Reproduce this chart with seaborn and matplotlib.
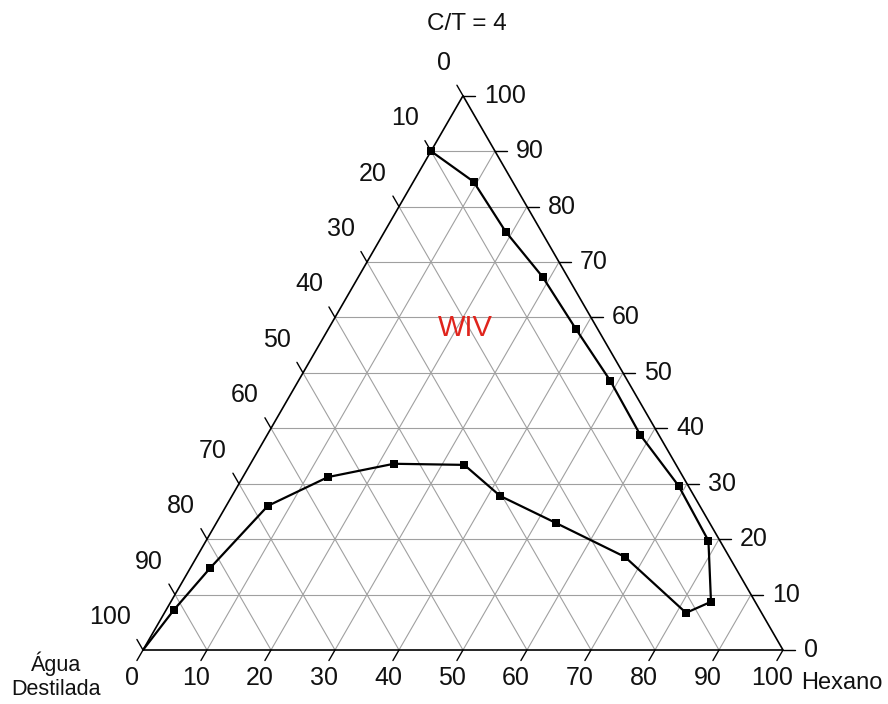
import numpy as np
import pandas as pd
import matplotlib
matplotlib.use("Agg")
import matplotlib.pyplot as plt
import seaborn as sns

# Binodal curve of the pseudo-ternary system (percentages)
hexano = [0, 1.2, 3.1, 6.5, 13.3, 22.4, 33.5, 41.9, 53.1, 66.9, 81.5,
          84.4, 78.5, 68.9, 58.3, 48.7, 38.7, 28.8, 18.9, 9.4, 0]
ct = [0, 7.2, 14.8, 26.0, 31.2, 33.6, 33.4, 27.8, 22.9, 16.8, 6.7,
      8.7, 19.7, 29.6, 38.8, 48.6, 57.9, 67.3, 75.5, 84.5, 90]
agua = [100 - h - c for h, c in zip(hexano, ct)]

ticks = list(range(0, 101, 10))
tick_labels = [str(t) for t in ticks]

H = np.sqrt(3) / 2


def to_xy(hex_pct, ct_pct):
    h = np.asarray(hex_pct, dtype=float) / 100
    c = np.asarray(ct_pct, dtype=float) / 100
    return h + c / 2, c * H


sns.set_theme(style="white")
plt.rcParams["font.family"] = ["Liberation Sans", "DejaVu Sans"]

fig = plt.figure(figsize=(8.88, 7.04), dpi=100)
ax = fig.add_axes([0, 0, 1, 1])
ax.set_xlim(-143 / 640, 745 / 640)
ax.set_ylim(-54 / 640, 650 / 640)
ax.axis("off")

grid_kw = dict(color="#a0a0a0", lw=0.8, zorder=1)
tick_len = 0.019
for t in ticks[1:-1]:
    f = t / 100
    # constant C/T (horizontal)
    ax.plot([f / 2, 1 - f / 2], [f * H, f * H], **grid_kw)
    # constant Hexano (parallel to left edge)
    ax.plot([f, f + (1 - f) / 2], [0, (1 - f) * H], **grid_kw)
    # constant Água (parallel to right edge)
    ax.plot([1 - f, (1 - f) / 2], [0, (1 - f) * H], **grid_kw)

# triangle outline
ax.plot([0, 1, 0.5, 0], [0, 0, H, 0], color="black", lw=1.2, zorder=2)

lab_fs = 18
for t, lab in zip(ticks, tick_labels):
    f = t / 100
    # bottom axis (Hexano)
    x0, y0 = f, 0
    ax.plot([x0, x0 - 0.5 * tick_len], [y0, y0 - H * tick_len], color="black", lw=1.0, zorder=2)
    ax.annotate(lab, (x0, y0), xytext=(-11, -28), textcoords="offset pixels",
                ha="center", va="center", fontsize=lab_fs, color="#111111")
    # right axis (C/T)
    x0, y0 = 1 - f / 2, f * H
    ax.plot([x0, x0 + tick_len], [y0, y0], color="black", lw=1.0, zorder=2)
    ax.annotate(lab, (x0, y0), xytext=(21, 0), textcoords="offset pixels",
                ha="left", va="center", fontsize=lab_fs, color="#111111")
    # left axis (Água Destilada)
    x0, y0 = 0.5 * (1 - f), H * (1 - f)
    ax.plot([x0, x0 - 0.5 * tick_len], [y0, y0 + H * tick_len], color="black", lw=1.0, zorder=2)
    ax.annotate(lab, (x0, y0), xytext=(-12, 33), textcoords="offset pixels",
                ha="right", va="center", fontsize=lab_fs, color="#111111")

# binodal curve
xs, ys = to_xy(hexano, ct)
df = pd.DataFrame({"x": xs, "y": ys, "agua": agua})
sns.lineplot(data=df, x="x", y="y", sort=False, estimator=None, color="black",
             lw=1.6, ax=ax, zorder=3)
sns.scatterplot(data=df.iloc[1:], x="x", y="y", marker="s", s=28, color="black",
                edgecolor="black", linewidth=0, ax=ax, zorder=4)

ax.text(0.506, 0.978, "C/T = 4", ha="center", va="center", fontsize=17.5, color="#111111")
ax.text(0.503, 0.503, "WIV", ha="center", va="center", fontsize=21, color="#e0241c")
ax.text(1.092, -0.052, "Hexano", ha="center", va="center", fontsize=17, color="#111111")
ax.text(-0.136, -0.040, "Água\nDestilada", ha="center", va="center", fontsize=15.5,
        color="#111111", linespacing=1.2)

ax.set_xlabel("")
ax.set_ylabel("")
fig.savefig("out.png", dpi=100)
